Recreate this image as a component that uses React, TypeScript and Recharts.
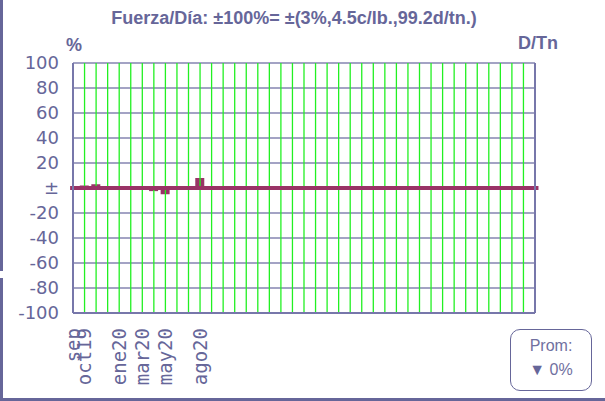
import React from "react";
import {
  ComposedChart,
  Bar,
  XAxis,
  YAxis,
  CartesianGrid,
  ReferenceLine,
} from "recharts";

// monthly strength, % of the ±100% band
const months = ["sep", "oct19", "nov19", "dic19", "ene20", "feb20", "mar20", "abr20", "may20", "jun20", "jul20", "ago20"];
const fuerza = [0, 2, 3, 0, 0, 0, 0, -2.5, -5, 0, 0, 8];
const labeledMonths = ["sep", "oct19", "ene20", "mar20", "may20", "ago20"];
const totalMonths = 40;

const pctTicks = [100, 80, 60, 40, 20, 0, -20, -40, -60, -80, -100];
const pctLabels = ["100", "80", "60", "40", "20", "±", "-20", "-40", "-60", "-80", "-100"];
const dtnLabels = ["99", "79", "60", "40", "20", "±", "-20", "-40", "-60", "-79", "-99"];

const data = months.map((m, i) => ({ idx: i, name: m, v: fuerza[i] }));
const monthTicks = labeledMonths.map((l) => months.indexOf(l));
const gridMonths = Array.from({ length: totalMonths - 1 }, (_, i) => i + 1);

const ink = "#666699";

const MonthTick = (props: any) => {
  const { x, y, payload } = props;
  const ty = y + 15;
  return (
    <text
      x={x}
      y={ty}
      transform={`rotate(-90, ${x}, ${ty})`}
      textAnchor="end"
      dy="0.35em"
      fill={ink}
      fontSize={19}
      fontFamily="DejaVu Sans Mono"
    >
      {months[payload.value]}
    </text>
  );
};

const RightTick = (props: any) => {
  const { x, y, payload } = props;
  const i = pctTicks.indexOf(payload.value);
  return (
    <text x={x} y={y} dy="0.355em" textAnchor="end" fill={ink} fontSize={18} fontFamily="DejaVu Sans">
      {dtnLabels[i]}
    </text>
  );
};

const App = () => {
  return (
    <div style={{ position: "absolute", left: 0, top: 0, width: 605, height: 401, background: "#fff" }}>
      <div style={{ position: "absolute", left: 0, top: 0, width: 3, height: 271, background: ink }} />
      <div style={{ position: "absolute", left: 0, top: 278, width: 3, height: 123, background: ink }} />
      <div style={{ position: "absolute", left: 0, top: 398, width: 605, height: 3, background: ink }} />
      <div
        style={{
          position: "absolute",
          left: 0,
          top: 8,
          width: 588,
          textAlign: "center",
          fontFamily: "Liberation Sans",
          fontWeight: "bold",
          fontSize: 18,
          color: ink,
        }}
      >
        Fuerza/Día: ±100%= ±(3%,4.5c/lb.,99.2d/tn.)
      </div>
      <div style={{ position: "absolute", left: 66, top: 35, fontFamily: "Liberation Sans", fontWeight: "bold", fontSize: 18, color: ink }}>
        %
      </div>
      <div style={{ position: "absolute", left: 518, top: 33, fontFamily: "Liberation Sans", fontWeight: "bold", fontSize: 18, color: ink }}>
        D/Tn
      </div>
      <ComposedChart
        width={605}
        height={401}
        data={data}
        margin={{ top: 63, right: 10, bottom: 8, left: 13 }}
        style={{ position: "absolute", left: 0, top: 0 }}
      >
        <CartesianGrid yAxisId="left" vertical={false} stroke="#8585b0" strokeWidth={1.5} />
        {gridMonths.map((k) => (
          <ReferenceLine key={k} yAxisId="left" x={k} stroke="#22f022" strokeWidth={1.3} />
        ))}
        <XAxis
          dataKey="idx"
          type="number"
          domain={[0, totalMonths]}
          ticks={monthTicks}
          interval={0}
          height={80}
          tickSize={0}
          tickMargin={0}
          tickLine={false}
          axisLine={{ stroke: "#7777aa", strokeWidth: 2 }}
          tick={<MonthTick />}
        />
        <YAxis
          yAxisId="left"
          domain={[-100, 100]}
          ticks={pctTicks}
          interval={0}
          width={60}
          tickSize={0}
          tickMargin={14}
          tickLine={false}
          axisLine={{ stroke: "#7777aa", strokeWidth: 2 }}
          tickFormatter={(v: number) => pctLabels[pctTicks.indexOf(v)]}
          tick={{ fill: ink, fontSize: 18, fontFamily: "DejaVu Sans" }}
        />
        <YAxis
          yAxisId="right"
          orientation="right"
          domain={[-100, 100]}
          ticks={pctTicks}
          interval={0}
          width={60}
          tickSize={5}
          tickMargin={43}
          tickLine={{ stroke: "#7777aa" }}
          axisLine={{ stroke: "#7777aa", strokeWidth: 2 }}
          tick={<RightTick />}
        />
        <ReferenceLine
          yAxisId="left"
          segment={[
            { x: -0.25, y: 0 },
            { x: totalMonths + 0.3, y: 0 },
          ]}
          ifOverflow="visible"
          stroke="#993366"
          strokeWidth={4}
        />
        <Bar yAxisId="left" dataKey="v" fill="#993366" barSize={9} isAnimationActive={false} />
      </ComposedChart>
      <div
        style={{
          position: "absolute",
          left: 510,
          top: 329,
          width: 80,
          height: 56,
          border: `1.5px solid ${ink}`,
          borderRadius: 10,
          fontFamily: "Liberation Sans",
          fontSize: 16,
          color: "#7070a0",
          textAlign: "center",
          lineHeight: "24px",
          paddingTop: 4,
          boxSizing: "content-box",
        }}
      >
        <div>Prom:</div>
        <div>
          <span style={{ color: ink }}>▼</span> 0%
        </div>
      </div>
    </div>
  );
};

export default App;
